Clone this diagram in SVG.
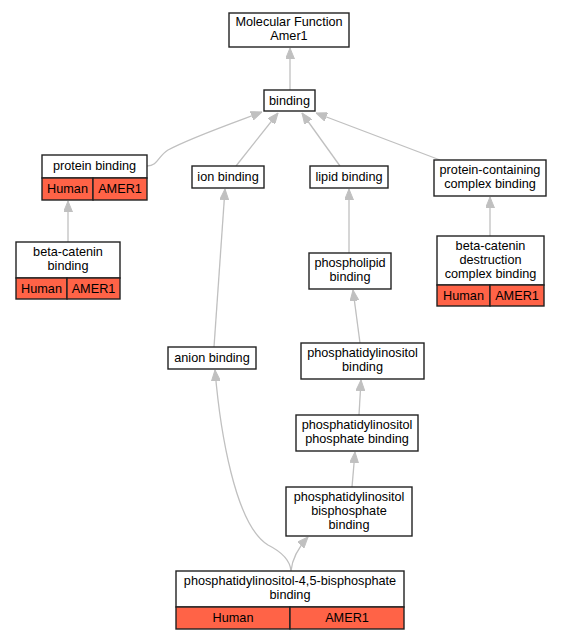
<svg xmlns="http://www.w3.org/2000/svg" width="563" height="640" viewBox="0 0 563 640">
<defs>
<style>
.box{fill:#fff;stroke:#222;stroke-width:1.4}
.red{fill:#ff6347;stroke:#222;stroke-width:1.4}
text{font-family:"Liberation Sans",Arial,sans-serif;font-size:12.7px;fill:#000;text-anchor:middle}
.e{fill:none;stroke:#c0c0c0;stroke-width:1.3}
.ah{fill:#c0c0c0;stroke:#c0c0c0}
</style>
<marker id="a" viewBox="0 0 11 9" refX="11" refY="4.5" markerWidth="11" markerHeight="9" markerUnits="userSpaceOnUse" orient="auto">
<path d="M0,0 L11,4.5 L0,9 Z" class="ah"/>
</marker>
</defs>
<rect width="563" height="640" fill="#fff"/>
<g id="edges">
<path class="e" marker-end="url(#a)" d="M290,90 L290,48"/>
<path class="e" marker-end="url(#a)" d="M147,166 C158,166 158,156 168,150 C190,138 230,124 262,112"/>
<path class="e" marker-end="url(#a)" d="M236,166 L278,113"/>
<path class="e" marker-end="url(#a)" d="M340,166 L302,113"/>
<path class="e" marker-end="url(#a)" d="M440,160 L316,113"/>
<path class="e" marker-end="url(#a)" d="M68,242 L68,201"/>
<path class="e" marker-end="url(#a)" d="M490,236 L490,197"/>
<path class="e" marker-end="url(#a)" d="M349,253 L349,189"/>
<path class="e" marker-end="url(#a)" d="M214,347 L225,189"/>
<path class="e" marker-end="url(#a)" d="M360,343 L353,290"/>
<path class="e" marker-end="url(#a)" d="M359,415 L361,380"/>
<path class="e" marker-end="url(#a)" d="M352,487 L355,452"/>
<path class="e" marker-end="url(#a)" d="M291,571 C290,558 278,550 268,545 C235,525 220,430 215,370"/>
<path class="e" marker-end="url(#a)" d="M291,571 C292,560 298,548 308,537"/>
</g>
<g id="mf">
<rect class="box" x="229" y="13" width="120" height="34"/>
<text x="289" y="26">Molecular Function</text>
<text x="289" y="40">Amer1</text>
</g>
<g id="binding">
<rect class="box" x="264" y="90" width="51" height="21"/>
<text x="289.5" y="105">binding</text>
</g>
<g id="protein-binding">
<rect class="box" x="42" y="155" width="105" height="23"/>
<rect class="red" x="42" y="178" width="51" height="22"/>
<rect class="red" x="93" y="178" width="54" height="22"/>
<text x="94.5" y="170">protein binding</text>
<text x="67.5" y="193">Human</text>
<text x="120" y="193">AMER1</text>
</g>
<g id="beta-catenin-binding">
<rect class="box" x="16" y="242" width="104" height="36"/>
<rect class="red" x="16" y="278" width="51" height="21"/>
<rect class="red" x="67" y="278" width="53" height="21"/>
<text x="68" y="256">beta-catenin</text>
<text x="68" y="270">binding</text>
<text x="41.5" y="293">Human</text>
<text x="93.5" y="293">AMER1</text>
</g>
<g id="ion-binding">
<rect class="box" x="192" y="166" width="72" height="22"/>
<text x="228" y="181">ion binding</text>
</g>
<g id="lipid-binding">
<rect class="box" x="310" y="166" width="78" height="22"/>
<text x="349" y="181">lipid binding</text>
</g>
<g id="protein-containing-complex-binding">
<rect class="box" x="434" y="160" width="112" height="36"/>
<text x="490" y="174">protein-containing</text>
<text x="490" y="188">complex binding</text>
</g>
<g id="beta-catenin-destruction-complex-binding">
<rect class="box" x="437" y="236" width="107" height="49"/>
<rect class="red" x="437" y="285" width="53" height="21"/>
<rect class="red" x="490" y="285" width="54" height="21"/>
<text x="490.5" y="250">beta-catenin</text>
<text x="490.5" y="264">destruction</text>
<text x="490.5" y="278">complex binding</text>
<text x="463.5" y="300">Human</text>
<text x="517" y="300">AMER1</text>
</g>
<g id="phospholipid-binding">
<rect class="box" x="309" y="253" width="82" height="36"/>
<text x="350" y="267">phospholipid</text>
<text x="350" y="281">binding</text>
</g>
<g id="anion-binding">
<rect class="box" x="168" y="347" width="88" height="22"/>
<text x="212" y="362">anion binding</text>
</g>
<g id="phosphatidylinositol-binding">
<rect class="box" x="301" y="343" width="123" height="36"/>
<text x="362.5" y="357">phosphatidylinositol</text>
<text x="362.5" y="371">binding</text>
</g>
<g id="phosphatidylinositol-phosphate-binding">
<rect class="box" x="296" y="415" width="122" height="36"/>
<text x="357" y="429">phosphatidylinositol</text>
<text x="357" y="443">phosphate binding</text>
</g>
<g id="phosphatidylinositol-bisphosphate-binding">
<rect class="box" x="286" y="487" width="126" height="49"/>
<text x="349" y="501">phosphatidylinositol</text>
<text x="349" y="515">bisphosphate</text>
<text x="349" y="529">binding</text>
</g>
<g id="pi45p2-binding">
<rect class="box" x="176" y="571" width="228" height="36"/>
<rect class="red" x="176" y="607" width="114" height="22"/>
<rect class="red" x="290" y="607" width="114" height="22"/>
<text x="290" y="585">phosphatidylinositol-4,5-bisphosphate</text>
<text x="290" y="599">binding</text>
<text x="233" y="622">Human</text>
<text x="347" y="622">AMER1</text>
</g>
</svg>
